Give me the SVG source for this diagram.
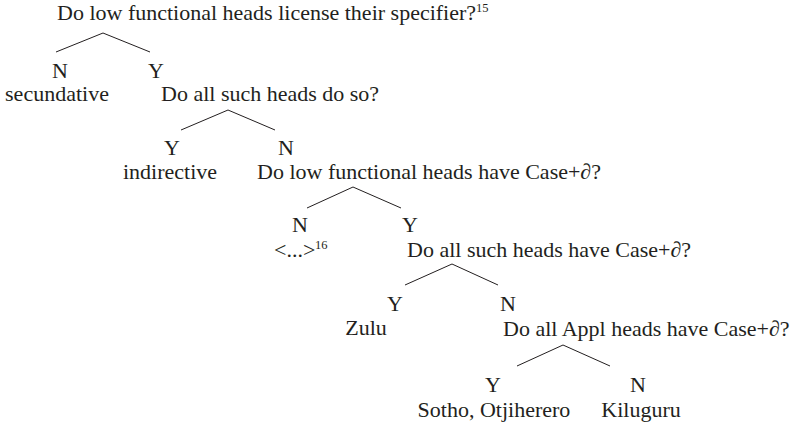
<svg xmlns="http://www.w3.org/2000/svg" width="799" height="422" viewBox="0 0 799 422">
<style>
text{font-family:"Liberation Serif","Times New Roman",serif;font-size:22px;fill:#231f20}
.m{text-anchor:middle}
.sup{font-size:12.5px}
line{stroke:#231f20;stroke-width:1}
</style>
<rect width="799" height="422" fill="#fff"/>
<g id="q1"><text x="57" y="20">Do low functional heads license their specifier?</text><text class="sup" x="476" y="12">15</text></g>
<g id="n1"><text class="m" x="60" y="78">N</text><text class="m" x="57" y="101">secundative</text></g>
<g id="y1"><text class="m" x="156" y="78">Y</text></g>
<g id="q2"><text x="161" y="101">Do all such heads do so?</text></g>
<g id="y2"><text class="m" x="172" y="155">Y</text><text class="m" x="170" y="179">indirective</text></g>
<g id="n2"><text class="m" x="286" y="155">N</text></g>
<g id="q3"><text x="257" y="179">Do low functional heads have Case+∂?</text></g>
<g id="n3"><text class="m" x="300" y="232">N</text><text x="274" y="257">&lt;...&gt;</text><text class="sup" x="315" y="249">16</text></g>
<g id="y3"><text class="m" x="410" y="232">Y</text></g>
<g id="q4"><text x="407" y="257">Do all such heads have Case+∂?</text></g>
<g id="y4"><text class="m" x="395" y="311">Y</text><text class="m" x="366" y="335">Zulu</text></g>
<g id="n4"><text class="m" x="508" y="311">N</text></g>
<g id="q5"><text x="503" y="336">Do all Appl heads have Case+∂?</text></g>
<g id="y5"><text class="m" x="493" y="392">Y</text><text class="m" x="494" y="417">Sotho, Otjiherero</text></g>
<g id="n5"><text class="m" x="638" y="392">N</text><text class="m" x="641" y="417">Kiluguru</text></g>
<g id="connectors">
<line x1="103" y1="33" x2="56" y2="52"/><line x1="103" y1="33" x2="150" y2="52"/>
<line x1="228" y1="110" x2="181" y2="130"/><line x1="228" y1="110" x2="275" y2="130"/>
<line x1="353" y1="187" x2="307" y2="208"/><line x1="353" y1="187" x2="401" y2="208"/>
<line x1="452" y1="264" x2="405" y2="285"/><line x1="452" y1="264" x2="498" y2="285"/>
<line x1="563" y1="345" x2="517" y2="366"/><line x1="563" y1="345" x2="610" y2="366"/>
</g>
</svg>
